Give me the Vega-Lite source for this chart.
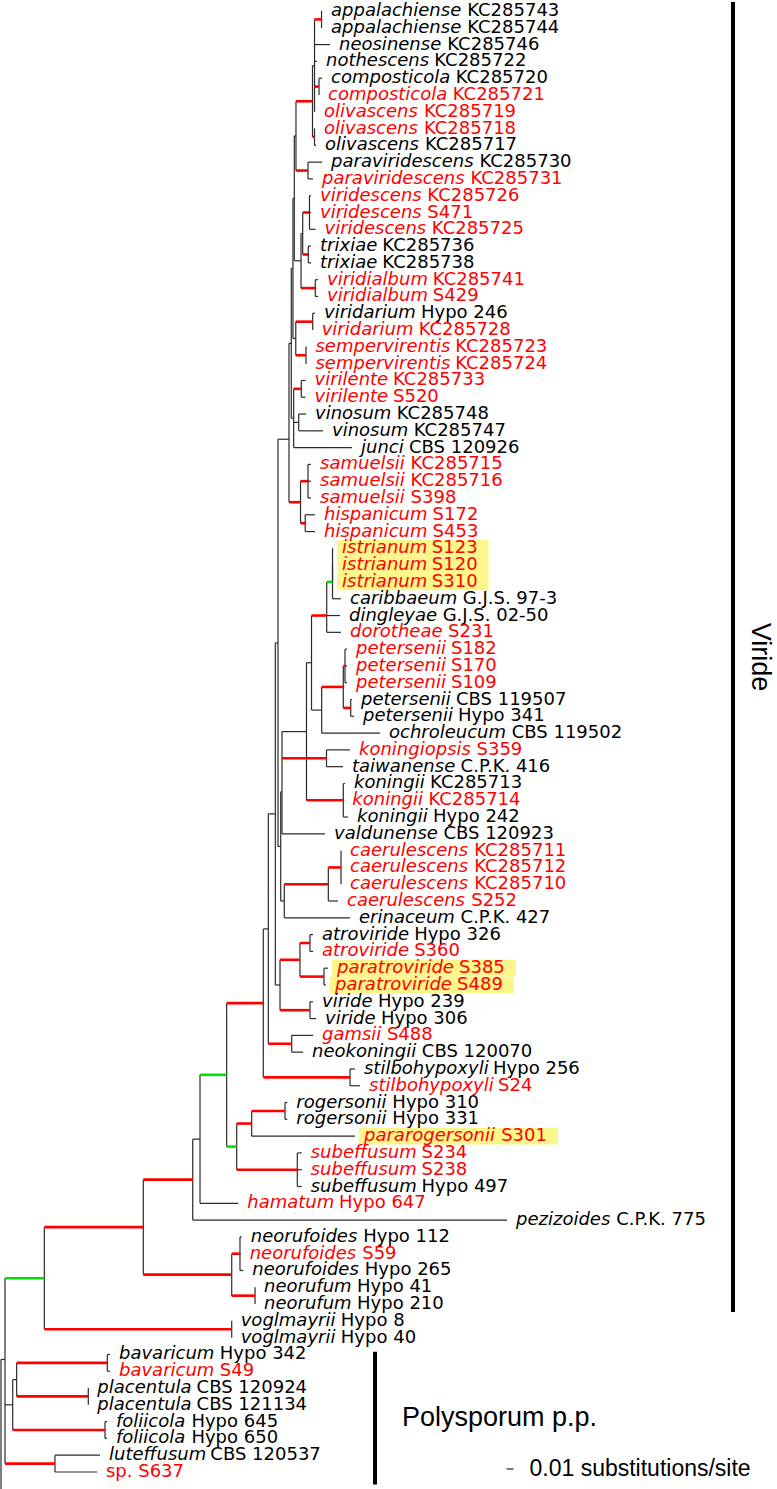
{
  "$schema": "https://vega.github.io/schema/vega-lite/v6.json",
  "width": 777,
  "height": 1489,
  "autosize": "none",
  "padding": 0,
  "background": "white",
  "config": {"view": {"stroke": null}},
  "datasets": {
    "nodes": [
      {"id":"ROOT","parent":null,"depth":0,"row":85,"support":"none"},
      {"id":"OUT","parent":"ROOT","depth":0.03,"row":95,"support":"none"},
      {"id":"R5","parent":"ROOT","depth":0.0057,"row":81.3,"support":"none"},
      {"id":"N44","parent":"R5","depth":0.0619,"row":76.46,"support":"mid"},
      {"id":"N12","parent":"R5","depth":0.0167,"row":84,"support":"none"},
      {"id":"N55","parent":"R5","depth":0.0771,"row":87.5,"support":"high"},
      {"id":"N16","parent":"N12","depth":0.0224,"row":82.5,"support":"none"},
      {"id":"FOL","parent":"N12","depth":0.1486,"row":85.5,"support":"high"},
      {"id":"BAV","parent":"N16","depth":0.1519,"row":81.5,"support":"high"},
      {"id":"PLA","parent":"N16","depth":0.1247,"row":83.5,"support":"high"},
      {"id":"N143","parent":"N44","depth":0.2033,"row":73.42,"support":"high"},
      {"id":"VOG","parent":"N44","depth":0.3296,"row":79.5,"support":"high"},
      {"id":"N192","parent":"N143","depth":0.2739,"row":70.59,"support":"high"},
      {"id":"NR","parent":"N143","depth":0.3296,"row":76.25,"support":"high"},
      {"id":"NRF","parent":"NR","depth":0.3414,"row":75,"support":"high"},
      {"id":"NRM","parent":"NR","depth":0.3629,"row":77.5,"support":"high"},
      {"id":"N200","parent":"N192","depth":0.2843,"row":68.18,"support":"none"},
      {"id":"N226","parent":"N200","depth":0.3224,"row":64.35,"support":"mid"},
      {"id":"N263","parent":"N226","depth":0.3747,"row":60.08,"support":"high"},
      {"id":"NRS","parent":"N226","depth":0.3367,"row":68.625,"support":"mid"},
      {"id":"R1","parent":"NRS","depth":0.3581,"row":67.25,"support":"high"},
      {"id":"SU","parent":"NRS","depth":0.4233,"row":70,"support":"high"},
      {"id":"ROG","parent":"R1","depth":0.4057,"row":66.5,"support":"high"},
      {"id":"N268","parent":"N263","depth":0.3819,"row":55.66,"support":"none"},
      {"id":"S","parent":"N263","depth":0.4986,"row":64.5,"support":"high"},
      {"id":"N275","parent":"N268","depth":0.3919,"row":48.81,"support":"none"},
      {"id":"G","parent":"N268","depth":0.4153,"row":62.5,"support":"high"},
      {"id":"N278","parent":"N275","depth":0.3957,"row":38.63,"support":"none"},
      {"id":"AV","parent":"N275","depth":0.3986,"row":59,"support":"none"},
      {"id":"A","parent":"AV","depth":0.4271,"row":57.5,"support":"high"},
      {"id":"V","parent":"AV","depth":0.4414,"row":60.5,"support":"high"},
      {"id":"A1","parent":"A","depth":0.4414,"row":56.5,"support":"high"},
      {"id":"A2","parent":"A","depth":0.4614,"row":58.5,"support":"high"},
      {"id":"N290","parent":"N278","depth":0.4114,"row":26.5,"support":"none"},
      {"id":"N2807","parent":"N278","depth":0.3996,"row":50.75,"support":"none"},
      {"id":"UP","parent":"N290","depth":0.4147,"row":20.79,"support":"none"},
      {"id":"SH","parent":"N290","depth":0.4279,"row":30.25,"support":"high"},
      {"id":"SA","parent":"SH","depth":0.4386,"row":29,"support":"high"},
      {"id":"HI","parent":"SH","depth":0.4346,"row":31.5,"support":"high"},
      {"id":"U5","parent":"UP","depth":0.4171,"row":16.33,"support":"none"},
      {"id":"U4","parent":"UP","depth":0.4181,"row":25.25,"support":"none"},
      {"id":"U2","parent":"U5","depth":0.419,"row":12.16,"support":"none"},
      {"id":"U3","parent":"U5","depth":0.4211,"row":20.5,"support":"none"},
      {"id":"U1","parent":"U2","depth":0.4214,"row":8.44,"support":"none"},
      {"id":"VTV","parent":"U2","depth":0.4286,"row":15.875,"support":"none"},
      {"id":"N19","parent":"U1","depth":0.445,"row":6.375,"support":"high"},
      {"id":"PV","parent":"U1","depth":0.4386,"row":10.5,"support":"high"},
      {"id":"XA","parent":"N19","depth":0.4479,"row":4.25,"support":"none"},
      {"id":"XB","parent":"N19","depth":0.4479,"row":8.5,"support":"high"},
      {"id":"AP","parent":"XA","depth":0.4579,"row":1.5,"support":"high"},
      {"id":"CO","parent":"XA","depth":0.4543,"row":5.5,"support":"high"},
      {"id":"VT","parent":"VTV","depth":0.431,"row":14.25,"support":"none"},
      {"id":"VA","parent":"VTV","depth":0.449,"row":17.5,"support":"high"},
      {"id":"VS","parent":"VT","depth":0.4407,"row":13,"support":"high"},
      {"id":"TR","parent":"VT","depth":0.439,"row":15.5,"support":"high"},
      {"id":"VR","parent":"U3","depth":0.4453,"row":19.5,"support":"high"},
      {"id":"SE","parent":"U3","depth":0.4357,"row":21.5,"support":"high"},
      {"id":"VL","parent":"U4","depth":0.429,"row":23.5,"support":"high"},
      {"id":"VN","parent":"U4","depth":0.4253,"row":25.5,"support":"none"},
      {"id":"N282","parent":"N2807","depth":0.4014,"row":47.5,"support":"none"},
      {"id":"CE","parent":"N2807","depth":0.4047,"row":54,"support":"none"},
      {"id":"KD","parent":"N282","depth":0.4364,"row":43.91,"support":"none"},
      {"id":"K1","parent":"N282","depth":0.465,"row":45.5,"support":"high"},
      {"id":"DP","parent":"KD","depth":0.4436,"row":39.81,"support":"none"},
      {"id":"KON","parent":"KD","depth":0.489,"row":48,"support":"high"},
      {"id":"D","parent":"DP","depth":0.4653,"row":37,"support":"high"},
      {"id":"PO","parent":"DP","depth":0.4581,"row":42.63,"support":"none"},
      {"id":"IC","parent":"D","depth":0.4736,"row":35,"support":"mid"},
      {"id":"I","parent":"IC","depth":0.4736,"row":34,"support":"none"},
      {"id":"P","parent":"PO","depth":0.489,"row":41.25,"support":"high"},
      {"id":"P1","parent":"P","depth":0.4914,"row":40,"support":"high"},
      {"id":"P2","parent":"P","depth":0.4996,"row":42.5,"support":"high"},
      {"id":"C","parent":"CE","depth":0.4676,"row":53,"support":"high"},
      {"id":"C1","parent":"C","depth":0.4857,"row":52,"support":"high"},
      {"id":"L1","parent":"AP","depth":0.4586,"row":1,"support":"none","species":"appalachiense","code":"KC285743","novel":false},
      {"id":"L2","parent":"AP","depth":0.4586,"row":2,"support":"none","species":"appalachiense","code":"KC285744","novel":false},
      {"id":"L3","parent":"XA","depth":0.47,"row":3,"support":"none","species":"neosinense","code":"KC285746","novel":false},
      {"id":"L4","parent":"XA","depth":0.4514,"row":4,"support":"none","species":"nothescens","code":"KC285722","novel":false},
      {"id":"L5","parent":"CO","depth":0.4586,"row":5,"support":"none","species":"composticola","code":"KC285720","novel":false},
      {"id":"L6","parent":"CO","depth":0.4543,"row":6,"support":"none","species":"composticola","code":"KC285721","novel":true},
      {"id":"L7","parent":"XA","depth":0.4486,"row":7,"support":"none","species":"olivascens","code":"KC285719","novel":true},
      {"id":"L8","parent":"XB","depth":0.4486,"row":8,"support":"none","species":"olivascens","code":"KC285718","novel":true},
      {"id":"L9","parent":"XB","depth":0.45,"row":9,"support":"none","species":"olivascens","code":"KC285717","novel":false},
      {"id":"L10","parent":"PV","depth":0.4586,"row":10,"support":"none","species":"paraviridescens","code":"KC285730","novel":false},
      {"id":"L11","parent":"PV","depth":0.4457,"row":11,"support":"none","species":"paraviridescens","code":"KC285731","novel":true},
      {"id":"L12","parent":"VS","depth":0.4429,"row":12,"support":"none","species":"viridescens","code":"KC285726","novel":true},
      {"id":"L13","parent":"VS","depth":0.4429,"row":13,"support":"none","species":"viridescens","code":"S471","novel":true},
      {"id":"L14","parent":"VS","depth":0.4493,"row":14,"support":"none","species":"viridescens","code":"KC285725","novel":true},
      {"id":"L15","parent":"TR","depth":0.4429,"row":15,"support":"none","species":"trixiae","code":"KC285736","novel":false},
      {"id":"L16","parent":"TR","depth":0.4429,"row":16,"support":"none","species":"trixiae","code":"KC285738","novel":false},
      {"id":"L17","parent":"VA","depth":0.4529,"row":17,"support":"none","species":"viridialbum","code":"KC285741","novel":true},
      {"id":"L18","parent":"VA","depth":0.4529,"row":18,"support":"none","species":"viridialbum","code":"S429","novel":true},
      {"id":"L19","parent":"VR","depth":0.4486,"row":19,"support":"none","species":"viridarium","code":"Hypo 246","novel":false},
      {"id":"L20","parent":"VR","depth":0.4453,"row":20,"support":"none","species":"viridarium","code":"KC285728","novel":true},
      {"id":"L21","parent":"SE","depth":0.4364,"row":21,"support":"none","species":"sempervirentis","code":"KC285723","novel":true},
      {"id":"L22","parent":"SE","depth":0.4364,"row":22,"support":"none","species":"sempervirentis","code":"KC285724","novel":true},
      {"id":"L23","parent":"VL","depth":0.435,"row":23,"support":"none","species":"virilente","code":"KC285733","novel":true},
      {"id":"L24","parent":"VL","depth":0.435,"row":24,"support":"none","species":"virilente","code":"S520","novel":true},
      {"id":"L25","parent":"VN","depth":0.4357,"row":25,"support":"none","species":"vinosum","code":"KC285748","novel":false},
      {"id":"L26","parent":"VN","depth":0.46,"row":26,"support":"none","species":"vinosum","code":"KC285747","novel":false},
      {"id":"L27","parent":"U4","depth":0.5014,"row":27,"support":"none","species":"junci","code":"CBS 120926","novel":false},
      {"id":"L28","parent":"SA","depth":0.4429,"row":28,"support":"none","species":"samuelsii","code":"KC285715","novel":true},
      {"id":"L29","parent":"SA","depth":0.4429,"row":29,"support":"none","species":"samuelsii","code":"KC285716","novel":true},
      {"id":"L30","parent":"SA","depth":0.4429,"row":30,"support":"none","species":"samuelsii","code":"S398","novel":true},
      {"id":"L31","parent":"HI","depth":0.4486,"row":31,"support":"none","species":"hispanicum","code":"S172","novel":true},
      {"id":"L32","parent":"HI","depth":0.4486,"row":32,"support":"none","species":"hispanicum","code":"S453","novel":true},
      {"id":"L33","parent":"I","depth":0.4743,"row":33,"support":"none","species":"istrianum","code":"S123","novel":true,"hl":true},
      {"id":"L34","parent":"I","depth":0.4743,"row":34,"support":"none","species":"istrianum","code":"S120","novel":true,"hl":true},
      {"id":"L35","parent":"I","depth":0.4743,"row":35,"support":"none","species":"istrianum","code":"S310","novel":true,"hl":true},
      {"id":"L36","parent":"IC","depth":0.4857,"row":36,"support":"none","species":"caribbaeum","code":"G.J.S. 97-3","novel":false},
      {"id":"L37","parent":"D","depth":0.4843,"row":37,"support":"none","species":"dingleyae","code":"G.J.S. 02-50","novel":false},
      {"id":"L38","parent":"D","depth":0.4857,"row":38,"support":"none","species":"dorotheae","code":"S231","novel":true},
      {"id":"L39","parent":"P1","depth":0.4943,"row":39,"support":"none","species":"petersenii","code":"S182","novel":true},
      {"id":"L40","parent":"P1","depth":0.4943,"row":40,"support":"none","species":"petersenii","code":"S170","novel":true},
      {"id":"L41","parent":"P1","depth":0.4943,"row":41,"support":"none","species":"petersenii","code":"S109","novel":true},
      {"id":"L42","parent":"P2","depth":0.5014,"row":42,"support":"none","species":"petersenii","code":"CBS 119507","novel":false},
      {"id":"L43","parent":"P2","depth":0.5043,"row":43,"support":"none","species":"petersenii","code":"Hypo 341","novel":false},
      {"id":"L44","parent":"PO","depth":0.5414,"row":44,"support":"none","species":"ochroleucum","code":"CBS 119502","novel":false},
      {"id":"L45","parent":"K1","depth":0.4986,"row":45,"support":"none","species":"koningiopsis","code":"S359","novel":true},
      {"id":"L46","parent":"K1","depth":0.4886,"row":46,"support":"none","species":"taiwanense","code":"C.P.K. 416","novel":false},
      {"id":"L47","parent":"KON","depth":0.4914,"row":47,"support":"none","species":"koningii","code":"KC285713","novel":false},
      {"id":"L48","parent":"KON","depth":0.489,"row":48,"support":"none","species":"koningii","code":"KC285714","novel":true},
      {"id":"L49","parent":"KON","depth":0.4957,"row":49,"support":"none","species":"koningii","code":"Hypo 242","novel":false},
      {"id":"L50","parent":"N282","depth":0.4629,"row":50,"support":"none","species":"valdunense","code":"CBS 120923","novel":false},
      {"id":"L51","parent":"C1","depth":0.4857,"row":51,"support":"none","species":"caerulescens","code":"KC285711","novel":true},
      {"id":"L52","parent":"C1","depth":0.4857,"row":52,"support":"none","species":"caerulescens","code":"KC285712","novel":true},
      {"id":"L53","parent":"C1","depth":0.4857,"row":53,"support":"none","species":"caerulescens","code":"KC285710","novel":true},
      {"id":"L54","parent":"C","depth":0.4814,"row":54,"support":"none","species":"caerulescens","code":"S252","novel":true},
      {"id":"L55","parent":"CE","depth":0.4986,"row":55,"support":"none","species":"erinaceum","code":"C.P.K. 427","novel":false},
      {"id":"L56","parent":"A1","depth":0.4457,"row":56,"support":"none","species":"atroviride","code":"Hypo 326","novel":false},
      {"id":"L57","parent":"A1","depth":0.4457,"row":57,"support":"none","species":"atroviride","code":"S360","novel":true},
      {"id":"L58","parent":"A2","depth":0.4671,"row":58,"support":"none","species":"paratroviride","code":"S385","novel":true,"hl":true},
      {"id":"L59","parent":"A2","depth":0.4643,"row":59,"support":"none","species":"paratroviride","code":"S489","novel":true,"hl":true},
      {"id":"L60","parent":"V","depth":0.4457,"row":60,"support":"none","species":"viride","code":"Hypo 239","novel":false},
      {"id":"L61","parent":"V","depth":0.45,"row":61,"support":"none","species":"viride","code":"Hypo 306","novel":false},
      {"id":"L62","parent":"G","depth":0.4457,"row":62,"support":"none","species":"gamsii","code":"S488","novel":true},
      {"id":"L63","parent":"G","depth":0.4314,"row":63,"support":"none","species":"neokoningii","code":"CBS 120070","novel":false},
      {"id":"L64","parent":"S","depth":0.5057,"row":64,"support":"none","species":"stilbohypoxyli","code":"Hypo 256","novel":false},
      {"id":"L65","parent":"S","depth":0.5129,"row":65,"support":"none","species":"stilbohypoxyli","code":"S24","novel":true},
      {"id":"L66","parent":"ROG","depth":0.409,"row":66,"support":"none","species":"rogersonii","code":"Hypo 310","novel":false},
      {"id":"L67","parent":"ROG","depth":0.409,"row":67,"support":"none","species":"rogersonii","code":"Hypo 331","novel":false},
      {"id":"L68","parent":"R1","depth":0.5057,"row":68,"support":"none","species":"pararogersonii","code":"S301","novel":true,"hl":true},
      {"id":"L69","parent":"SU","depth":0.4296,"row":69,"support":"none","species":"subeffusum","code":"S234","novel":true},
      {"id":"L70","parent":"SU","depth":0.4296,"row":70,"support":"none","species":"subeffusum","code":"S238","novel":true},
      {"id":"L71","parent":"SU","depth":0.4296,"row":71,"support":"none","species":"subeffusum","code":"Hypo 497","novel":false},
      {"id":"L72","parent":"N200","depth":0.339,"row":72,"support":"none","species":"hamatum","code":"Hypo 647","novel":true},
      {"id":"L73","parent":"N192","depth":0.7229,"row":73,"support":"none","species":"pezizoides","code":"C.P.K. 775","novel":false},
      {"id":"L74","parent":"NRF","depth":0.3439,"row":74,"support":"none","species":"neorufoides","code":"Hypo 112","novel":false},
      {"id":"L75","parent":"NRF","depth":0.3424,"row":75,"support":"none","species":"neorufoides","code":"S59","novel":true},
      {"id":"L76","parent":"NRF","depth":0.3461,"row":76,"support":"none","species":"neorufoides","code":"Hypo 265","novel":false},
      {"id":"L77","parent":"NRM","depth":0.3629,"row":77,"support":"none","species":"neorufum","code":"Hypo 41","novel":false},
      {"id":"L78","parent":"NRM","depth":0.3629,"row":78,"support":"none","species":"neorufum","code":"Hypo 210","novel":false},
      {"id":"L79","parent":"VOG","depth":0.3296,"row":79,"support":"none","species":"voglmayrii","code":"Hypo 8","novel":false},
      {"id":"L80","parent":"VOG","depth":0.3296,"row":80,"support":"none","species":"voglmayrii","code":"Hypo 40","novel":false},
      {"id":"L81","parent":"BAV","depth":0.1557,"row":81,"support":"none","species":"bavaricum","code":"Hypo 342","novel":false},
      {"id":"L82","parent":"BAV","depth":0.1557,"row":82,"support":"none","species":"bavaricum","code":"S49","novel":true},
      {"id":"L83","parent":"PLA","depth":0.1247,"row":83,"support":"none","species":"placentula","code":"CBS 120924","novel":false},
      {"id":"L84","parent":"PLA","depth":0.1247,"row":84,"support":"none","species":"placentula","code":"CBS 121134","novel":false},
      {"id":"L85","parent":"FOL","depth":0.1514,"row":85,"support":"none","species":"foliicola","code":"Hypo 645","novel":false},
      {"id":"L86","parent":"FOL","depth":0.1514,"row":86,"support":"none","species":"foliicola","code":"Hypo 650","novel":false},
      {"id":"L87","parent":"N55","depth":0.1414,"row":87,"support":"none","species":"luteffusum","code":"CBS 120537","novel":false},
      {"id":"L88","parent":"N55","depth":0.1371,"row":88,"support":"none","species":"sp.","code":"S637","novel":true}
    ],
    "clades": [
      {"clade":"Viride","from":0.46,"to":78.47,"at":1.0457},
      {"clade":"Polysporum p.p.","from":80.84,"to":88.74,"at":0.5343}
    ],
    "scalebar": [
      {"length":0.01,"label":"0.01 substitutions/site"}
    ]
  },
  "layer": [
    {
      "data": {"name": "nodes"},
      "transform": [
        {"filter": "datum.hl === true"},
        {"calculate": "datum.species", "as": "ital"},
        {"calculate": "length(datum.ital)", "as": "n"},
        {"calculate": "(625*datum.n - 350*(datum.n-length(replace(datum.ital,regexp('[ijl]','g'),''))) - 275*(datum.n-length(replace(datum.ital,regexp('[ft]','g'),''))) - 215*(datum.n-length(replace(datum.ital,regexp('r','g'),''))) - 100*(datum.n-length(replace(datum.ital,regexp('[sz]','g'),''))) - 75*(datum.n-length(replace(datum.ital,regexp('c','g'),''))) - 40*(datum.n-length(replace(datum.ital,regexp('[kvxy]','g'),''))) + 340*(datum.n-length(replace(datum.ital,regexp('m','g'),''))) + 190*(datum.n-length(replace(datum.ital,regexp('w','g'),''))))*0.018", "as": "wsp"},
        {"calculate": "datum.depth + 4/700", "as": "hx1"},
        {"calculate": "datum.depth + (10 + datum.wsp + 5.7 + 636*length(datum.code)*0.018 + 10)/700", "as": "hx2"},
        {"calculate": "datum.row - 0.5", "as": "hy1"},
        {"calculate": "datum.row + 0.5", "as": "hy2"}
      ],
      "mark": {"type": "rect", "color": "#fdf68a"},
      "encoding": {
        "x": {"field": "hx1", "type": "quantitative", "scale": {"domain": [-0.00143, 1.10857], "nice": false, "zero": false}, "axis": null},
        "x2": {"field": "hx2"},
        "y": {"field": "hy1", "type": "quantitative", "scale": {"domain": [0.345, 89.013], "reverse": true, "nice": false, "zero": false}, "axis": null},
        "y2": {"field": "hy2"}
      }
    },
    {
      "data": {"name": "nodes"},
      "transform": [
        {"filter": "datum.parent != null"},
        {"aggregate": [{"op": "min", "field": "row", "as": "lo"}, {"op": "max", "field": "row", "as": "hi"}], "groupby": ["parent"]},
        {"lookup": "parent", "from": {"data": {"name": "nodes"}, "key": "id", "fields": ["depth"]}}
      ],
      "mark": {"type": "rule", "color": "#2a2a2a", "strokeWidth": 1.2, "clip": true},
      "encoding": {
        "x": {"field": "depth", "type": "quantitative", "scale": {"domain": [-0.00143, 1.10857], "nice": false, "zero": false}, "axis": null},
        "y": {"field": "lo", "type": "quantitative", "scale": {"domain": [0.345, 89.013], "reverse": true, "nice": false, "zero": false}, "axis": null},
        "y2": {"field": "hi"}
      }
    },
    {
      "data": {"name": "nodes"},
      "transform": [
        {"filter": "datum.parent != null && datum.support == 'none'"},
        {"lookup": "parent", "from": {"data": {"name": "nodes"}, "key": "id", "fields": ["depth"]}, "as": ["pdepth"]}
      ],
      "mark": {"type": "rule", "color": "#2a2a2a", "strokeWidth": 1.2, "clip": true},
      "encoding": {
        "x": {"field": "pdepth", "type": "quantitative", "scale": {"domain": [-0.00143, 1.10857], "nice": false, "zero": false}, "axis": null},
        "x2": {"field": "depth"},
        "y": {"field": "row", "type": "quantitative", "scale": {"domain": [0.345, 89.013], "reverse": true, "nice": false, "zero": false}, "axis": null}
      }
    },
    {
      "data": {"name": "nodes"},
      "transform": [
        {"filter": "datum.parent != null && datum.support != 'none'"},
        {"lookup": "parent", "from": {"data": {"name": "nodes"}, "key": "id", "fields": ["depth"]}, "as": ["pdepth"]}
      ],
      "mark": {"type": "rule", "strokeWidth": 2.6, "clip": true},
      "encoding": {
        "x": {"field": "pdepth", "type": "quantitative", "scale": {"domain": [-0.00143, 1.10857], "nice": false, "zero": false}, "axis": null},
        "x2": {"field": "depth"},
        "y": {"field": "row", "type": "quantitative", "scale": {"domain": [0.345, 89.013], "reverse": true, "nice": false, "zero": false}, "axis": null},
        "color": {"field": "support", "type": "nominal", "scale": {"domain": ["mid", "high"], "range": ["#00e000", "#ff0000"]}, "legend": null}
      }
    },
    {
      "data": {"name": "nodes"},
      "transform": [
        {"filter": "isValid(datum.species) && datum.species != 'sp.'"}
      ],
      "mark": {"type": "text", "align": "left", "baseline": "middle", "dx": 9, "font": "DejaVu Sans", "fontStyle": "italic", "fontSize": 18},
      "encoding": {
        "x": {"field": "depth", "type": "quantitative", "scale": {"domain": [-0.00143, 1.10857], "nice": false, "zero": false}, "axis": null},
        "y": {"field": "row", "type": "quantitative", "scale": {"domain": [0.345, 89.013], "reverse": true, "nice": false, "zero": false}, "axis": null},
        "text": {"field": "species"},
        "color": {"field": "novel", "type": "nominal", "scale": {"domain": [false, true], "range": ["#000000", "#ff0000"]}, "legend": null}
      }
    },
    {
      "data": {"name": "nodes"},
      "transform": [
        {"filter": "isValid(datum.species)"},
        {"calculate": "datum.species == 'sp.' ? '' : datum.species", "as": "ital"},
        {"calculate": "datum.species == 'sp.' ? 'sp. ' + datum.code : datum.code", "as": "codeText"},
        {"calculate": "length(datum.ital)", "as": "n"},
        {"calculate": "(625*datum.n - 350*(datum.n-length(replace(datum.ital,regexp('[ijl]','g'),''))) - 275*(datum.n-length(replace(datum.ital,regexp('[ft]','g'),''))) - 215*(datum.n-length(replace(datum.ital,regexp('r','g'),''))) - 100*(datum.n-length(replace(datum.ital,regexp('[sz]','g'),''))) - 75*(datum.n-length(replace(datum.ital,regexp('c','g'),''))) - 40*(datum.n-length(replace(datum.ital,regexp('[kvxy]','g'),''))) + 340*(datum.n-length(replace(datum.ital,regexp('m','g'),''))) + 190*(datum.n-length(replace(datum.ital,regexp('w','g'),''))))*0.018", "as": "wsp"},
        {"calculate": "datum.n > 0 ? datum.wsp + 5.7 : 0", "as": "lead"},
        {"calculate": "datum.depth + (9 + datum.lead)/700", "as": "codeX"}
      ],
      "mark": {"type": "text", "align": "left", "baseline": "middle", "font": "DejaVu Sans", "fontSize": 18},
      "encoding": {
        "x": {"field": "codeX", "type": "quantitative", "scale": {"domain": [-0.00143, 1.10857], "nice": false, "zero": false}, "axis": null},
        "y": {"field": "row", "type": "quantitative", "scale": {"domain": [0.345, 89.013], "reverse": true, "nice": false, "zero": false}, "axis": null},
        "text": {"field": "codeText"},
        "color": {"field": "novel", "type": "nominal", "scale": {"domain": [false, true], "range": ["#000000", "#ff0000"]}, "legend": null}
      }
    },
    {
      "data": {"name": "clades"},
      "mark": {"type": "rule", "color": "#000000", "strokeWidth": 4},
      "encoding": {
        "x": {"field": "at", "type": "quantitative", "scale": {"domain": [-0.00143, 1.10857], "nice": false, "zero": false}, "axis": null},
        "y": {"field": "from", "type": "quantitative", "scale": {"domain": [0.345, 89.013], "reverse": true, "nice": false, "zero": false}, "axis": null},
        "y2": {"field": "to"}
      }
    },
    {
      "data": {"name": "clades"},
      "transform": [
        {"filter": "datum.clade == 'Viride'"},
        {"calculate": "datum.at + 27/700", "as": "lx"},
        {"calculate": "(datum.from + datum.to)/2", "as": "mid"}
      ],
      "mark": {"type": "text", "align": "center", "baseline": "middle", "angle": 90, "font": "Liberation Sans", "fontSize": 27, "color": "#000000"},
      "encoding": {
        "x": {"field": "lx", "type": "quantitative", "scale": {"domain": [-0.00143, 1.10857], "nice": false, "zero": false}, "axis": null},
        "y": {"field": "mid", "type": "quantitative", "scale": {"domain": [0.345, 89.013], "reverse": true, "nice": false, "zero": false}, "axis": null},
        "text": {"field": "clade"}
      }
    },
    {
      "data": {"name": "clades"},
      "transform": [
        {"filter": "datum.clade != 'Viride'"},
        {"calculate": "datum.at + 27/700", "as": "lx"},
        {"calculate": "(datum.from + datum.to)/2", "as": "mid"}
      ],
      "mark": {"type": "text", "align": "left", "baseline": "middle", "font": "Liberation Sans", "fontSize": 27, "color": "#000000"},
      "encoding": {
        "x": {"field": "lx", "type": "quantitative", "scale": {"domain": [-0.00143, 1.10857], "nice": false, "zero": false}, "axis": null},
        "y": {"field": "mid", "type": "quantitative", "scale": {"domain": [0.345, 89.013], "reverse": true, "nice": false, "zero": false}, "axis": null},
        "text": {"field": "clade"}
      }
    },
    {
      "data": {"name": "scalebar"},
      "transform": [
        {"calculate": "0.7221", "as": "xs"},
        {"calculate": "0.7221 + datum.length", "as": "xe"},
        {"calculate": "87.82", "as": "yr"}
      ],
      "mark": {"type": "rule", "color": "#222222", "strokeWidth": 1.2},
      "encoding": {
        "x": {"field": "xs", "type": "quantitative", "scale": {"domain": [-0.00143, 1.10857], "nice": false, "zero": false}, "axis": null},
        "x2": {"field": "xe"},
        "y": {"field": "yr", "type": "quantitative", "scale": {"domain": [0.345, 89.013], "reverse": true, "nice": false, "zero": false}, "axis": null}
      }
    },
    {
      "data": {"name": "scalebar"},
      "transform": [
        {"calculate": "0.7221 + datum.length", "as": "xe"},
        {"calculate": "87.82", "as": "yr"}
      ],
      "mark": {"type": "text", "align": "left", "baseline": "middle", "dx": 16, "font": "Liberation Sans", "fontSize": 23, "color": "#000000"},
      "encoding": {
        "x": {"field": "xe", "type": "quantitative", "scale": {"domain": [-0.00143, 1.10857], "nice": false, "zero": false}, "axis": null},
        "y": {"field": "yr", "type": "quantitative", "scale": {"domain": [0.345, 89.013], "reverse": true, "nice": false, "zero": false}, "axis": null},
        "text": {"field": "label"}
      }
    }
  ],
  "resolve": {"scale": {"color": "independent"}}
}
